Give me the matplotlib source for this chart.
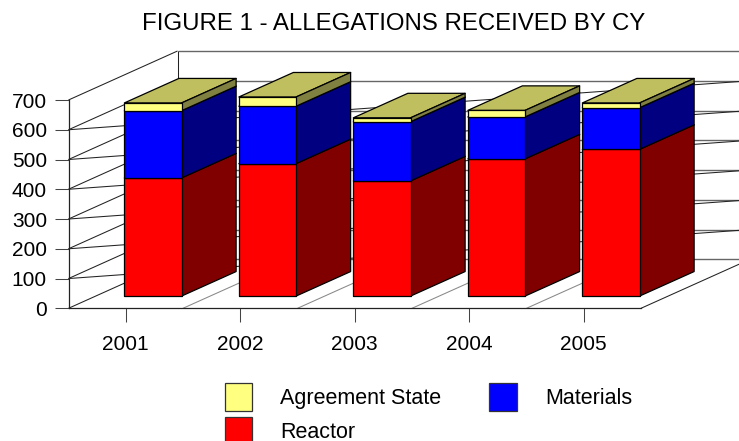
#3d looking stacked bars, the depth is worked out by hand since the chart is a fake 3d box
import matplotlib
matplotlib.use('Agg')
import matplotlib.pyplot as plt
from matplotlib.patches import Polygon, Patch

plt.rcParams['font.family'] = ['Liberation Sans', 'DejaVu Sans']

years = ['2001', '2002', '2003', '2004', '2005']
reactor = [397, 445, 387, 461, 493]
materials = [226, 193, 199, 141, 140]
agreement = [26, 31, 13, 22, 16]

series_names = ['Reactor', 'Materials', 'Agreement State']
series_values = [reactor, materials, agreement]
front_colors = ['#ff0000', '#0000ff', '#ffff80']
side_colors = ['#800000', '#000080', '#808040']
top_colors = ['#bf0000', '#0000bf', '#bfbf60']

y_ticks = [0, 100, 200, 300, 400, 500, 600, 700]

W, H = 739, 441
# depth of the box in data units (109 px across, 49 px up)
depth_x = 109 / 114.5
depth_y = 49 / 0.2976

fig = plt.figure(figsize=(W / 100, H / 100), dpi=100)
ax = fig.add_axes([68.5 / W, 1 - 308.3 / H, 572.5 / W, 208.3 / H])
ax.set_xlim(0, 5)
ax.set_ylim(0, 700)
ax.patch.set_visible(False)


#moves a point (category, value) back into the box
def proj(x, depth, v):
    return x + depth * depth_x, v + depth * depth_y


def line(xs, ys, color='#222222', lw=0.75, z=1):
    ax.plot(xs, ys, color=color, lw=lw, clip_on=False, zorder=z, solid_capstyle='butt')


# walls and gridlines
for v in y_ticks:
    bx, by = proj(0, 1, v)
    ex, ey = proj(5, 1, v)
    line([0, bx], [v, by])
    line([bx, ex], [by, ey], color='#666666', lw=1.0)
    if 0 < v < 700:
        line([0, ex], [v, ey])

bx, by = proj(0, 1, 0)
tx, ty = proj(0, 1, 700)
line([bx, tx], [by, ty])
ex, ey = proj(5, 1, 0)
line([5, ex], [0, ey])
for i in range(1, 5):
    ex, ey = proj(i, 1, 0)
    line([i, ex], [0, ey], color='#888888')

# bars, half a category wide and sitting in the middle of the floor
for i in range(len(years)):
    left = i + 0.25
    right = i + 0.75
    bottom = 0
    for values, fc, sc, tc in zip(series_values, front_colors, side_colors, top_colors):
        top = bottom + values[i]
        front = [proj(left, 0.25, bottom), proj(right, 0.25, bottom),
                 proj(right, 0.25, top), proj(left, 0.25, top)]
        side = [proj(right, 0.25, bottom), proj(right, 0.75, bottom),
                proj(right, 0.75, top), proj(right, 0.25, top)]
        cap = [proj(left, 0.25, top), proj(right, 0.25, top),
               proj(right, 0.75, top), proj(left, 0.75, top)]
        for pts, c in [(cap, tc), (side, sc), (front, fc)]:
            ax.add_patch(Polygon(pts, closed=True, facecolor=c, edgecolor='black',
                                 lw=0.9, clip_on=False, zorder=3, joinstyle='round'))
        bottom = top

# real axes for the front edge
for s in ['top', 'right']:
    ax.spines[s].set_visible(False)
for s in ['left', 'bottom']:
    ax.spines[s].set_linewidth(0.9)
    ax.spines[s].set_color('#222222')
ax.set_xticks([i + 0.5 for i in range(len(years))])
ax.set_xticklabels(years)
ax.set_yticks(y_ticks)
ax.tick_params(axis='x', length=10, width=0.75, color='#444444', labelsize=15, pad=9, labelcolor='black')
ax.tick_params(axis='y', length=10, width=0.75, color='#444444', labelsize=15, pad=5.5, labelcolor='black')

fig.text(394 / W, 1 - 24 / H, 'FIGURE 1 - ALLEGATIONS RECEIVED BY CY', ha='center', va='center', fontsize=17.3)

handles = [Patch(facecolor=front_colors[2], edgecolor='#333333', lw=0.9, label=series_names[2]),
           Patch(facecolor=front_colors[0], edgecolor='#333333', lw=0.9, label=series_names[0]),
           Patch(facecolor=front_colors[1], edgecolor='#333333', lw=0.9, label=series_names[1])]
fig.legend(handles=handles, ncol=2, loc='upper left', bbox_to_anchor=(224.5 / W, 1 - 383 / H),
           frameon=False, fontsize=15.5, borderpad=0, borderaxespad=0,
           handlelength=1.3, handleheight=1.62, handletextpad=1.3,
           labelspacing=0.3, columnspacing=2.2)

fig.savefig('out.png', dpi=100)
